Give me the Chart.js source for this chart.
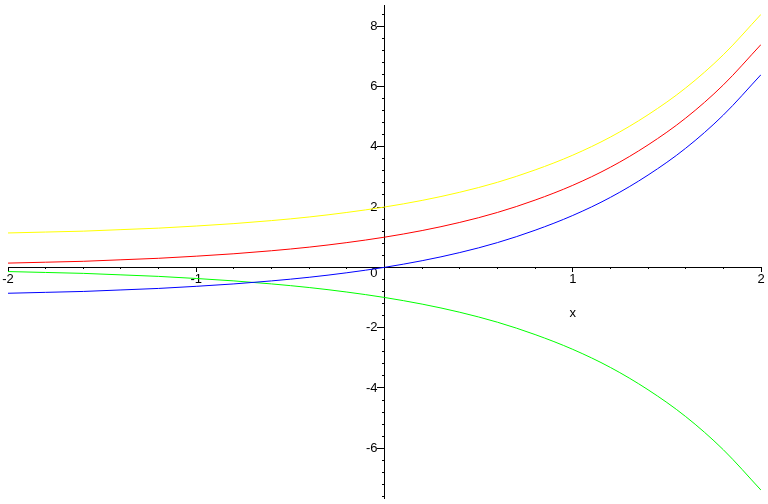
<!DOCTYPE html>
<html>
<head>
<meta charset="utf-8">
<script src="https://cdn.jsdelivr.net/npm/chart.js@4/dist/chart.umd.min.js"></script>
<style>
  html, body { margin: 0; padding: 0; background: #ffffff; }
  #wrap { width: 768px; height: 504px; }
</style>
</head>
<body>
<div id="wrap"><canvas id="c" width="768" height="504"></canvas></div>
<script>
// x positions of the samples
const xValues = [-2.0,-1.8,-1.6,-1.4,-1.2,-1.0,-0.8,-0.6,-0.4,-0.2,0.0,0.2,0.4,0.6,0.8,1.0,1.2,1.4,1.6,1.8,2.0];
// yellow curve
const yellowValues = [1.14,1.17,1.20,1.25,1.30,1.37,1.45,1.55,1.67,1.82,2.00,2.22,2.49,2.82,3.23,3.72,4.32,5.06,5.95,7.05,8.39];
// red curve
const redValues = [0.14,0.17,0.20,0.25,0.30,0.37,0.45,0.55,0.67,0.82,1.00,1.22,1.49,1.82,2.23,2.72,3.32,4.06,4.95,6.05,7.39];
// blue curve
const blueValues = [-0.86,-0.83,-0.80,-0.75,-0.70,-0.63,-0.55,-0.45,-0.33,-0.18,0.00,0.22,0.49,0.82,1.23,1.72,2.32,3.06,3.95,5.05,6.39];
// green curve
const greenValues = [-0.14,-0.17,-0.20,-0.25,-0.30,-0.37,-0.45,-0.55,-0.67,-0.82,-1.00,-1.22,-1.49,-1.82,-2.23,-2.72,-3.32,-4.06,-4.95,-6.05,-7.39];

// tick labels
const xTickLabels = [-2, -1, 1, 2];
const yTickLabels = [-6, -4, -2, 2, 4, 6, 8];
const originLabel = [0];
const xAxisTitle = 'x';

const X_MIN = -2, X_MAX = 2, Y_MIN = -7.65, Y_MAX = 8.70;

function pts(ys) { return xValues.map((x, i) => ({ x: x, y: ys[i] })); }
function range(a, b, step) {
  const out = [];
  const n = Math.round((b - a) / step);
  for (let i = 0; i <= n; i++) out.push(Math.round((a + i * step) * 1000) / 1000);
  return out;
}
const xMinor = range(-2, 2, 0.2);
const yMinor = range(-7.6, 8.4, 0.4);
const yMajor = range(-6, 8, 2);

const FAMILY = '"Liberation Sans", Arial, sans-serif';
const FONT_Y = { family: FAMILY, size: 13, lineHeight: 0.5 };
const FONT_X = { family: FAMILY, size: 13, lineHeight: 1 };

function ds(label, values, color) {
  return {
    label: label, data: pts(values), borderColor: color, backgroundColor: color,
    borderWidth: 1, pointRadius: 0, fill: false, cubicInterpolationMode: 'monotone',
    xAxisID: 'x', yAxisID: 'y'
  };
}

const xLabelPlugin = {
  id: 'xLabel',
  afterDraw(chart) {
    const ctx = chart.ctx;
    const xs = chart.scales.x, ys = chart.scales.y;
    ctx.save();
    ctx.font = '13px ' + FAMILY;
    ctx.fillStyle = '#000';
    ctx.textAlign = 'center';
    ctx.textBaseline = 'middle';
    ctx.fillText(xAxisTitle, xs.getPixelForValue(1), ys.getPixelForValue(0) + 46);
    ctx.restore();
  }
};

function labelScale(values, offset) {
  return {
    type: 'linear', axis: 'y', min: Y_MIN, max: Y_MAX, position: { x: -0.0372 },
    afterBuildTicks: (s) => { s.ticks = values.map(v => ({ value: v })); },
    ticks: { color: '#000', font: FONT_Y, padding: 0, autoSkip: false, labelOffset: offset,
             callback: (v) => String(v) },
    grid: { drawOnChartArea: false, drawTicks: false },
    border: { display: false }
  };
}

new Chart(document.getElementById('c'), {
  type: 'line',
  data: {
    datasets: [
      ds('yellow', yellowValues, '#ffff00'),
      ds('red', redValues, '#ff0000'),
      ds('blue', blueValues, '#0000ff'),
      ds('green', greenValues, '#00ff00')
    ]
  },
  options: {
    responsive: false,
    animation: false,
    layout: { padding: { left: 8, right: 7, top: 5, bottom: 6 } },
    plugins: { legend: { display: false }, tooltip: { enabled: false } },
    scales: {
      x: {
        type: 'linear', min: X_MIN, max: X_MAX, position: { y: 0 },
        afterBuildTicks: (s) => { s.ticks = xTickLabels.map(v => ({ value: v })); },
        ticks: { color: '#000', font: FONT_X, padding: 2, maxRotation: 0, autoSkip: false,
                 callback: (v) => String(v) },
        grid: { drawOnChartArea: false, drawTicks: true, tickLength: 4, tickColor: '#000', tickWidth: 1 },
        border: { display: true, color: '#000', width: 1 }
      },
      x2: {
        type: 'linear', axis: 'x', min: X_MIN, max: X_MAX, position: { y: 0 },
        afterBuildTicks: (s) => { s.ticks = xMinor.map(v => ({ value: v })); },
        ticks: { display: false },
        grid: { drawOnChartArea: false, drawTicks: true, tickLength: 2, tickColor: '#000', tickWidth: 1 },
        border: { display: false }
      },
      y: {
        type: 'linear', min: Y_MIN, max: Y_MAX, position: { x: 0 },
        afterBuildTicks: (s) => { s.ticks = yMajor.map(v => ({ value: v })); },
        ticks: { display: false },
        grid: { drawOnChartArea: false, drawTicks: true, tickLength: 7, tickColor: '#000', tickWidth: 1 },
        border: { display: true, color: '#000', width: 1 }
      },
      y2: {
        type: 'linear', axis: 'y', min: Y_MIN, max: Y_MAX, position: { x: 0 },
        afterBuildTicks: (s) => { s.ticks = yMinor.map(v => ({ value: v })); },
        ticks: { display: false },
        grid: { drawOnChartArea: false, drawTicks: true, tickLength: 3, tickColor: '#000', tickWidth: 1 },
        border: { display: false }
      },
      yl: labelScale(yTickLabels, 0),
      y0: labelScale(originLabel, 6)
    }
  },
  plugins: [xLabelPlugin]
});
</script>
</body>
</html>
